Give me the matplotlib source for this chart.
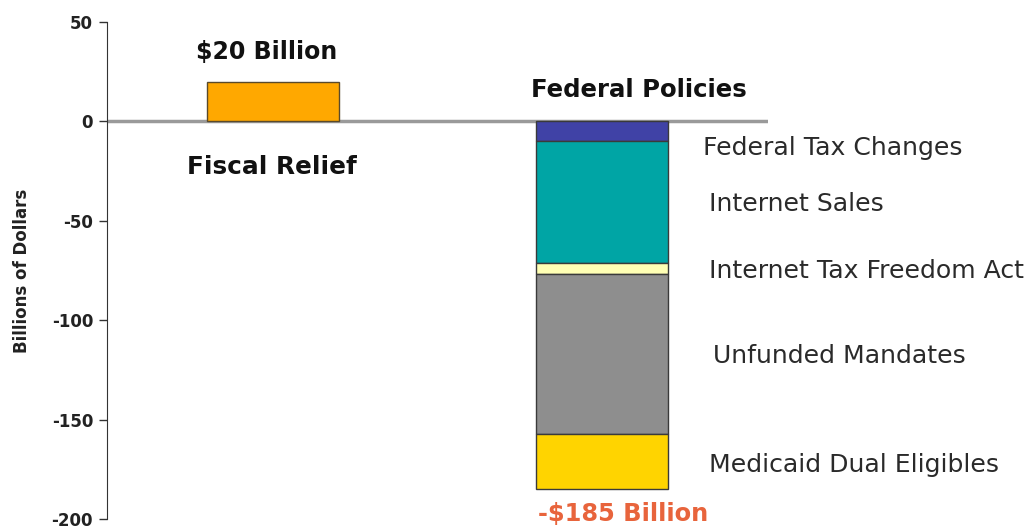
import matplotlib
matplotlib.use("Agg")
import matplotlib.pyplot as plt

plt.rcParams['font.family'] = ['DejaVu Sans']

relief_value = 20
segment_names = ["Federal Tax Changes", "Internet Sales", "Internet Tax Freedom Act",
                 "Unfunded Mandates", "Medicaid Dual Eligibles"]
segment_values = [-10, -61, -6, -80, -28]
segment_colors = ["#4042A6", "#00A5A5", "#FFFFB4", "#8E8E8E", "#FFD400"]
yticks = [50, 0, -50, -100, -150, -200]

fig = plt.figure(figsize=(10.36, 5.30), dpi=100)
top_px, bot_px = 22, 519
ax = fig.add_axes([107/1036, 1-bot_px/530, (768-107)/1036, (bot_px-top_px)/530])

ax.bar(0, relief_value, width=0.4, color="#FFA800", edgecolor="#5a4a2a", linewidth=1)
bottom = 0
for v, c in zip(segment_values, segment_colors):
    ax.bar(1, v, width=0.4, bottom=bottom, color=c, edgecolor="#3a3a3a", linewidth=1)
    bottom += v
total = bottom

ax.set_xlim(-0.505, 1.505)
ax.set_ylim(-200, 50)
ax.axhline(0, color="#9a9a9a", linewidth=2.5, zorder=0)
ax.spines['top'].set_visible(False)
ax.spines['right'].set_visible(False)
ax.spines['bottom'].set_visible(False)
ax.spines['left'].set_color("#333333")
ax.set_xticks([])
ax.set_yticks(yticks)
ax.set_yticklabels([str(t) for t in yticks], fontsize=12, fontweight='bold', color="#222222")
ax.tick_params(axis='y', length=6, width=1, color="#333333", pad=4)
ax.set_ylabel("Billions of Dollars", fontsize=12, fontweight='bold', color="#222222", labelpad=15)

bold_kw = dict(ha='center', va='center', fontweight='bold', clip_on=False)
ax.text(-0.02, 35, "$20 Billion", fontsize=17, color="#111111", **bold_kw)
ax.text(-0.003, -23, "Fiscal Relief", fontsize=17.8, color="#111111", **bold_kw)
ax.text(1.112, 16, "Federal Policies", fontsize=17.6, color="#111111", **bold_kw)
ax.text(1.063, -197.5, f"-${-total} Billion", fontsize=17.4, color="#E8643C", **bold_kw)

label_x = [1.307, 1.327, 1.327, 1.337, 1.327]
label_y = [-13.5, -41.5, -75, -118, -173]
for name, lx, ly in zip(segment_names, label_x, label_y):
    ax.text(lx, ly, name, ha='left', va='center', fontsize=18.1, color="#2a2a2a", clip_on=False)

fig.savefig("out.png", dpi=100)
